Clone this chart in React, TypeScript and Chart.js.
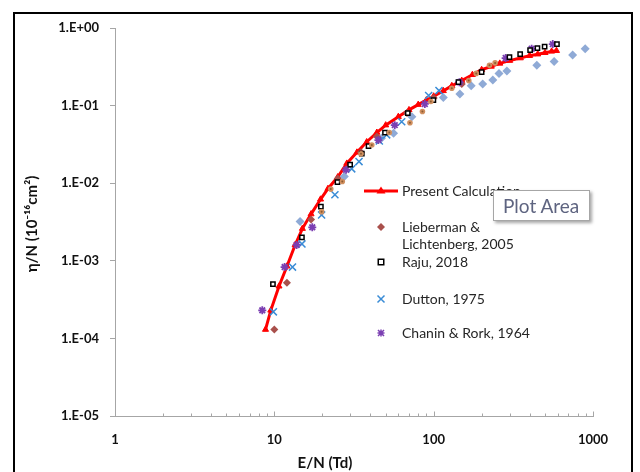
import React, { useEffect, useRef } from 'react';
import { Chart, registerables } from 'chart.js';

Chart.register(...registerables);

// ---------- data ----------
const xTickValues = [1, 10, 100, 1000];
const yTickValues = [1, 0.1, 0.01, 0.001, 0.0001, 0.00001];
const yTickLabels = ['1.E+00', '1.E-01', '1.E-02', '1.E-03', '1.E-04', '1.E-05'];

const seriesNames = [
  'Present Calculation',
  'Lieberman & Lichtenberg, 2005',
  'Raju, 2018',
  'Dutton, 1975',
  'Chanin & Rork, 1964',
];

const presentE = [8.8, 9.5, 10.7, 12, 13.5, 15, 17, 19.5, 21.7, 25, 28.5, 33, 38, 44, 50, 60, 70, 80, 90, 100, 115, 130, 150, 175, 200, 230, 260, 300, 350, 400, 450, 500, 550, 590];
const presentV = [1.3e-4, 2.3e-4, 4.7e-4, 8.5e-4, 1.6e-3, 2.6e-3, 4.0e-3, 6.2e-3, 8.5e-3, 0.012, 0.018, 0.025, 0.034, 0.045, 0.056, 0.072, 0.088, 0.103, 0.118, 0.132, 0.155, 0.18, 0.21, 0.25, 0.29, 0.32, 0.35, 0.38, 0.41, 0.44, 0.46, 0.48, 0.5, 0.51];

const liebermanE = [10, 12, 17, 25, 35, 44, 68, 100, 150];
const liebermanV = [1.3e-4, 5.2e-4, 3.4e-3, 0.0115, 0.025, 0.040, 0.08, 0.125, 0.19];

const rajuE = [9.8, 14.9, 19.6, 24.9, 29.9, 35.4, 39, 49.5, 68.8, 99.6, 143, 200, 299, 349, 403, 448, 497, 594];
const rajuV = [5.0e-4, 2.0e-3, 5.0e-3, 0.0103, 0.0173, 0.024, 0.030, 0.045, 0.080, 0.118, 0.20, 0.27, 0.42, 0.46, 0.52, 0.55, 0.575, 0.62];

const duttonE = [9.86, 13, 14.9, 19.8, 24, 30.6, 34, 45.6, 50.7, 63, 93, 108];
const duttonV = [2.2e-4, 8.3e-4, 1.65e-3, 3.9e-3, 7.1e-3, 0.0153, 0.019, 0.035, 0.042, 0.062, 0.135, 0.156];

const chaninE = [8.4, 11.6, 13.8, 17.3, 28.2, 45, 57, 88, 145, 283, 412, 559];
const chaninV = [2.3e-4, 8.3e-4, 1.6e-3, 2.7e-3, 0.0149, 0.036, 0.056, 0.105, 0.20, 0.41, 0.54, 0.62];

const otherBlueE = [14.5, 27.5, 47, 56, 73, 115, 146, 172, 203, 235, 257, 288, 444, 570, 745, 893];
const otherBlueV = [3.2e-3, 0.0122, 0.038, 0.044, 0.072, 0.127, 0.141, 0.18, 0.19, 0.214, 0.26, 0.28, 0.33, 0.37, 0.45, 0.54];

const otherOrangeE = [19.8, 22.6, 26.7, 35, 40.9, 52.7, 71, 85, 96, 130, 166, 185, 224, 243];
const otherOrangeV = [4.3e-3, 8.4e-3, 0.0105, 0.024, 0.031, 0.045, 0.060, 0.084, 0.113, 0.167, 0.21, 0.26, 0.33, 0.355];

// ---------- styles ----------
const FONT = 'Lato, "Liberation Sans", Arial, sans-serif';
const RED = '#FF0000';
const BROWN = '#A9504C';
const BLUE = '#3A8CD6';
const PURPLE = '#7B3FB2';
const LIGHTBLUE = '#8FAAD6';
const ORANGE = '#D09060';
const AXIS = '#A6A6A6';

const pts = (xs: number[], ys: number[]) => xs.map((x, i) => ({ x, y: ys[i] }));

function drawMarker(ctx: CanvasRenderingContext2D, kind: string, x: number, y: number, color: string) {
  ctx.save();
  ctx.strokeStyle = color;
  ctx.fillStyle = color;
  ctx.lineWidth = 1.5;
  ctx.beginPath();
  if (kind === 'diamond') {
    ctx.moveTo(x, y - 4); ctx.lineTo(x + 4, y); ctx.lineTo(x, y + 4); ctx.lineTo(x - 4, y); ctx.closePath(); ctx.fill();
  } else if (kind === 'square') {
    ctx.fillStyle = '#fff'; ctx.lineWidth = 1.5;
    ctx.rect(x - 2.75, y - 2.75, 5.5, 5.5); ctx.fill(); ctx.stroke();
  } else if (kind === 'x') {
    ctx.moveTo(x - 3.5, y - 3.5); ctx.lineTo(x + 3.5, y + 3.5); ctx.moveTo(x + 3.5, y - 3.5); ctx.lineTo(x - 3.5, y + 3.5); ctx.stroke();
  } else if (kind === 'star') {
    ctx.moveTo(x - 3, y - 3); ctx.lineTo(x + 3, y + 3); ctx.moveTo(x + 3, y - 3); ctx.lineTo(x - 3, y + 3);
    ctx.moveTo(x - 3.5, y); ctx.lineTo(x + 3.5, y); ctx.moveTo(x, y - 3.5); ctx.lineTo(x, y + 3.5); ctx.stroke();
  } else if (kind === 'line') {
    ctx.lineWidth = 3; ctx.moveTo(x - 17, y); ctx.lineTo(x + 17, y); ctx.stroke();
    ctx.beginPath(); ctx.moveTo(x, y - 4.5); ctx.lineTo(x + 4.5, y + 2.5); ctx.lineTo(x - 4.5, y + 2.5); ctx.closePath(); ctx.fill();
  }
  ctx.restore();
}

const decor = {
  id: 'decor',
  afterDatasetsDraw(chart: any) {
    // small dark centres on the orange circle series
    const { ctx } = chart;
    const meta = chart.getDatasetMeta(0);
    ctx.save();
    ctx.fillStyle = '#8A5A30';
    for (const el of meta.data) {
      ctx.beginPath();
      ctx.arc(el.x, el.y, 1, 0, Math.PI * 2);
      ctx.fill();
    }
    ctx.restore();
  },
  afterDraw(chart: any) {
    const { ctx, chartArea } = chart;
    const xs = chart.scales.x;
    ctx.save();
    // minor / decade ticks on x axis (inside)
    ctx.strokeStyle = AXIS;
    ctx.lineWidth = 1;
    const yb = Math.round(chartArea.bottom) + 0.5;
    ctx.beginPath();
    for (const d of [1, 10, 100]) {
      for (let k = 2; k <= 9; k++) {
        const px = Math.round(xs.getPixelForValue(k * d)) + 0.5;
        ctx.moveTo(px, yb); ctx.lineTo(px, yb - 3);
      }
    }
    for (const d of [10, 100, 1000]) {
      const px = Math.round(xs.getPixelForValue(d)) + 0.5;
      ctx.moveTo(px, yb); ctx.lineTo(px, yb - 5);
    }
    ctx.stroke();

    // axis titles
    ctx.fillStyle = '#111';
    ctx.font = `bold 15px ${FONT}`;
    ctx.textAlign = 'center';
    ctx.textBaseline = 'middle';
    ctx.fillText('E/N (Td)', 325, 463);
    ctx.save();
    ctx.translate(32, 224);
    ctx.rotate(-Math.PI / 2);
    ctx.fillText('η/N (10⁻¹⁶cm²)', 0, 0);
    ctx.restore();

    // legend
    const mx = 381;
    const tx = 402;
    const kinds = ['line', 'diamond', 'square', 'x', 'star'];
    const colors = [RED, BROWN, '#000', BLUE, PURPLE];
    const ys = [191, 227, 262, 299, 333];
    ctx.font = `14px ${FONT}`;
    ctx.textAlign = 'left';
    ctx.fillStyle = '#262626';
    for (let i = 0; i < seriesNames.length; i++) {
      drawMarker(ctx, kinds[i], mx, ys[i], colors[i]);
      if (i === 1) {
        ctx.fillText('Lieberman &', tx, ys[i]);
        ctx.fillText('Lichtenberg, 2005', tx, ys[i] + 17);
      } else {
        ctx.fillText(seriesNames[i], tx, ys[i]);
      }
    }
    ctx.restore();
  },
};

export default function App() {
  const ref = useRef<HTMLCanvasElement>(null);
  useEffect(() => {
    if (!ref.current) return;
    const chart = new Chart(ref.current, {
      type: 'scatter',
      data: {
        datasets: [
          {
            label: 'Other (orange)',
            data: pts(otherOrangeE, otherOrangeV),
            pointStyle: 'circle', pointRadius: 2.8,
            pointBackgroundColor: ORANGE, pointBorderColor: ORANGE, pointBorderWidth: 0,
            showLine: false,
          },
          {
            label: seriesNames[2],
            data: pts(rajuE, rajuV),
            pointStyle: 'rect', pointRadius: 3,
            pointBackgroundColor: '#fff', pointBorderColor: '#000', pointBorderWidth: 1.5,
            showLine: false,
          },
          {
            label: seriesNames[4],
            data: pts(chaninE, chaninV),
            pointStyle: 'star', pointRadius: 4,
            pointBackgroundColor: PURPLE, pointBorderColor: PURPLE, pointBorderWidth: 1.8,
            showLine: false,
          },
          {
            label: seriesNames[3],
            data: pts(duttonE, duttonV),
            pointStyle: 'crossRot', pointRadius: 5,
            pointBackgroundColor: BLUE, pointBorderColor: BLUE, pointBorderWidth: 1.5,
            showLine: false,
          },
          {
            label: seriesNames[1],
            data: pts(liebermanE, liebermanV),
            pointStyle: 'rectRot', pointRadius: 4,
            pointBackgroundColor: BROWN, pointBorderColor: BROWN, pointBorderWidth: 0,
            showLine: false,
          },
          {
            label: 'Other (light blue)',
            data: pts(otherBlueE, otherBlueV),
            pointStyle: 'rectRot', pointRadius: 4.5,
            pointBackgroundColor: LIGHTBLUE, pointBorderColor: LIGHTBLUE, pointBorderWidth: 0,
            showLine: false,
          },
          {
            label: seriesNames[0],
            data: pts(presentE, presentV),
            showLine: true,
            borderColor: RED, borderWidth: 3,
            pointStyle: 'triangle', pointRadius: 3.5,
            pointBackgroundColor: RED, pointBorderColor: RED, pointBorderWidth: 1,
            tension: 0,
          },
        ],
      },
      options: {
        responsive: false,
        animation: false,
        devicePixelRatio: 1,
        layout: { padding: { top: 28, right: 47, bottom: 0, left: 0 } },
        plugins: { legend: { display: false }, tooltip: { enabled: false } },
        events: [],
        scales: {
          x: {
            type: 'logarithmic',
            min: 1,
            max: 1000,
            afterBuildTicks: (s: any) => { s.ticks = xTickValues.map((v) => ({ value: v })); },
            afterFit: (s: any) => { s.height = 56; },
            ticks: {
              autoSkip: false,
              maxRotation: 0,
              padding: 16,
              color: '#111',
              font: { family: FONT, size: 13, weight: 'bold' },
              callback: (v: any) => String(v),
            },
            grid: { drawOnChartArea: false, drawTicks: false, color: AXIS },
            border: { color: AXIS, width: 1 },
          },
          y: {
            type: 'logarithmic',
            min: 0.00001,
            max: 1,
            afterBuildTicks: (s: any) => { s.ticks = yTickValues.map((v) => ({ value: v })); },
            afterFit: (s: any) => { s.width = 115; },
            ticks: {
              autoSkip: false,
              padding: 11,
              color: '#111',
              font: { family: FONT, size: 13, weight: 'bold' },
              callback: (v: any) => {
                const i = yTickValues.findIndex((t) => Math.abs(Math.log10(t) - Math.log10(v)) < 1e-6);
                return i >= 0 ? yTickLabels[i] : '';
              },
            },
            grid: { drawOnChartArea: false, drawTicks: true, tickLength: 5, color: AXIS },
            border: { color: AXIS, width: 1 },
          },
        },
      },
      plugins: [decor],
    } as any);
    return () => chart.destroy();
  }, []);

  return (
    <div style={{ position: 'fixed', left: 0, top: 0, width: 640, height: 472, overflow: 'hidden', background: '#fff' }}>
      <canvas ref={ref} width={640} height={472} style={{ position: 'absolute', left: 0, top: 0, width: 640, height: 472 }} />
      <div
        style={{
          position: 'absolute', left: 13, top: 12, width: 620, height: 520,
          border: '2px solid #000', boxSizing: 'border-box', pointerEvents: 'none',
        }}
      />
      <div
        style={{
          position: 'absolute', left: 493, top: 190, width: 97, height: 31,
          border: '1px solid #A6A6A6', background: '#fff', boxSizing: 'border-box',
          boxShadow: '2px 2px 3px rgba(0,0,0,0.35)',
          fontFamily: FONT, fontSize: 19, color: '#5E6480',
          lineHeight: '29px', paddingLeft: 9, whiteSpace: 'nowrap',
        }}
      >
        Plot Area
      </div>
    </div>
  );
}
